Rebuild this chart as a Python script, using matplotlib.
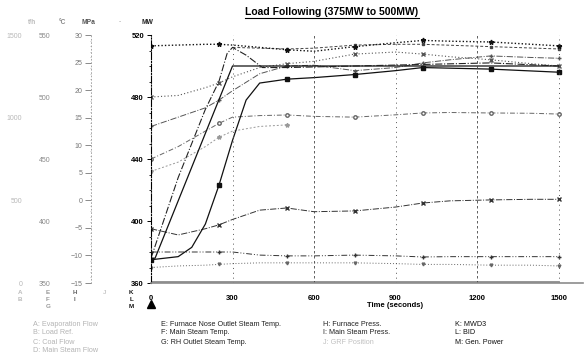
import matplotlib
matplotlib.use("Agg")
import matplotlib.pyplot as plt
from matplotlib.lines import Line2D
from matplotlib.ticker import MultipleLocator

plt.rcParams["font.family"] = ["Liberation Sans", "DejaVu Sans"]

# ---- data, read on the MW scale of the plot (time in seconds) ----
t_std = [0, 100, 200, 250, 300, 400, 500, 600, 750, 900, 1000, 1100, 1250, 1400, 1500]

evap_flow = [395, 391, 395, 397.5, 401, 407, 408.4, 406, 406.5, 409, 411.6, 413, 413.6, 414, 414]          # A
load_ref = [380, 380, 380, 380, 380, 378, 377.5, 377.5, 378, 377.5, 376.8, 377, 377, 377, 377]            # B
coal_flow = [370, 371, 371.5, 372, 372.5, 373, 373, 373, 373, 372.5, 372, 372, 371.5, 371.5, 371]         # C
nose_temp = [480, 481, 486, 489, 493, 499, 501.5, 503, 507.7, 509, 507.7, 506, 504, 501.5, 500]           # E
ms_temp = [513, 513.5, 514, 514, 513.5, 512, 510.5, 509.5, 512.5, 515, 516.5, 516, 515.5, 514, 513]       # F
rh_temp = [461, 467, 473, 478, 484, 495, 500, 500.5, 497, 499, 502, 504, 506.5, 505.5, 505]               # G
furn_press = [440, 448, 458, 463, 467, 468, 468.4, 467.5, 467, 468.5, 469.7, 470, 469.7, 469.5, 469]     # H

t_msflow = [300, 400, 500, 600, 750, 900, 1000, 1250, 1500]
ms_flow = [512, 511.5, 511, 511.5, 513.5, 514, 514, 512.5, 511]                                           # D

t_mspress = [0, 100, 200, 250, 300, 400, 500]
ms_press = [432, 438, 448, 454, 458, 461, 462]                                                            # I

t_pos = [0, 1500]
grf_pos = [360.6, 360.6]                                                                                   # J

t_mwd = [0, 15, 300, 1500]
mwd3 = [376, 376, 500, 500]                                                                                # K

t_bid = [0, 100, 200, 250, 280, 300, 350, 410, 500, 750, 1000, 1250, 1500]
bid = [376, 428, 472, 490, 508, 512, 507, 499, 499, 500, 501, 502, 500]                                    # L

t_gen = [0, 100, 150, 200, 250, 300, 350, 400, 500, 600, 750, 900, 1000, 1250, 1500]
gen_power = [375, 377, 383, 398, 423, 452, 478, 489, 491.5, 492.5, 494.5, 497, 499, 498, 496]            # M

time_ticks = [0, 300, 600, 900, 1200, 1500]
mw_ticks = [360, 400, 440, 480, 520]

legend_cols = [
    (33, "#b4b4b4", ["A: Evaporation Flow", "B: Load Ref.", "C: Coal Flow", "D: Main Steam Flow"]),
    (161, "#222222", ["E: Furnace Nose Outlet Steam Temp.", "F: Main Steam Temp.", "G: RH Outlet Steam Temp."]),
    (323, "#222222", ["H: Furnace Press.", "I: Main Steam Press."]),
    (455, "#111111", ["K: MWD3", "L: BID", "M: Gen. Power"]),
]

W, H = 587, 355


def fx(px):
    return px / W


def fy(py):
    return 1 - py / H


fig = plt.figure(figsize=(W / 100, H / 100), dpi=100)
ax = fig.add_axes([fx(151), fy(283), fx(583) - fx(151), fy(35) - fy(283)])
ax.set_xlim(0, 1590)
ax.set_ylim(360, 520)


def marks(times):
    return [i for i, t in enumerate(times) if t % 250 == 0]


series = [
    (t_std, evap_flow, dict(color="#333333", ls="-.", lw=0.7, marker="x", ms=2.5)),
    (t_std, load_ref, dict(color="#333333", ls=(0, (6, 2, 1, 2, 1, 2)), lw=0.7, marker="+", ms=3)),
    (t_std, coal_flow, dict(color="#666666", ls=(0, (1, 2)), lw=0.7, marker="v", ms=2)),
    (t_msflow, ms_flow, dict(color="#444444", ls=(0, (3, 2)), lw=0.7, marker="s", ms=2)),
    (t_std, nose_temp, dict(color="#555555", ls=(0, (1, 2)), lw=0.8, marker="x", ms=2.5)),
    (t_std, ms_temp, dict(color="#111111", ls=(0, (1, 1.5)), lw=1.0, marker="*", ms=3.5)),
    (t_std, rh_temp, dict(color="#555555", ls="-.", lw=0.7, marker="+", ms=3)),
    (t_std, furn_press, dict(color="#666666", ls=(0, (5, 2, 1, 2)), lw=0.7, marker="o", ms=2.5, mfc="white")),
    (t_mspress, ms_press, dict(color="#999999", ls=(0, (2, 2)), lw=0.7, marker="*", ms=3)),
    (t_pos, grf_pos, dict(color="#8c8c8c", ls="-", lw=1.3)),
    (t_mwd, mwd3, dict(color="#111111", ls="-", lw=0.9)),
    (t_bid, bid, dict(color="#222222", ls="-.", lw=0.8)),
    (t_gen, gen_power, dict(color="#111111", ls="-", lw=0.9, marker="s", ms=2.5)),
]
for tt, vv, style in series:
    if "marker" in style:
        style["markevery"] = marks(tt)
    ax.plot(tt, vv, **style)

# vertical reference lines
for t in time_ticks[1:]:
    if t % 600 == 0:
        ax.axvline(t, color="#444444", ls=(0, (3, 3)), lw=0.6)
    else:
        ax.axvline(t, color="#555555", ls=(0, (1, 4)), lw=0.7)

for side in ("top", "right"):
    ax.spines[side].set_visible(False)
ax.spines["left"].set_linestyle("-.")
ax.spines["left"].set_linewidth(0.8)
ax.spines["bottom"].set_color("#8c8c8c")
ax.spines["bottom"].set_linewidth(1.2)

ax.set_yticks(mw_ticks)
ax.yaxis.set_minor_locator(MultipleLocator(10))
ax.tick_params(axis="y", which="major", length=3, width=0.7, pad=2, labelsize=5.5)
ax.tick_params(axis="y", which="minor", length=1.5, width=0.6)
for lab in ax.get_yticklabels():
    lab.set_fontweight("bold")
ax.set_xticks(time_ticks)
ax.tick_params(axis="x", length=0, pad=9, labelsize=5.5)
for lab in ax.get_xticklabels():
    lab.set_fontweight("bold")
ax.set_xlabel("Time (seconds)", fontsize=5.5, fontweight="bold", labelpad=1)
ax.xaxis.set_label_coords((900 + 0) / 1590, -0.075)

ax.plot([0], [-0.085], marker="^", ms=6, color="black", transform=ax.get_xaxis_transform(), clip_on=False)


def side_axis(offset_px, lo, hi, step, color, show_spine=False):
    a = ax.twinx()
    a.set_ylim(lo, hi)
    a.yaxis.tick_left()
    a.spines["right"].set_visible(False)
    a.spines["top"].set_visible(False)
    a.spines["bottom"].set_visible(False)
    a.spines["left"].set_position(("outward", offset_px * 72 / 100))
    a.spines["left"].set_visible(show_spine)
    a.yaxis.set_major_locator(MultipleLocator(step))
    a.tick_params(axis="y", labelsize=5, labelcolor=color, length=0, pad=2)
    return a


ax_flow = side_axis(126, 0, 1500, 500, "#b8b8b8")
ax_temp = side_axis(98, 350, 550, 50, "#8a8a8a")
ax_press = side_axis(60, -15, 30, 5, "#777777", show_spine=True)
ax_press.spines["left"].set_linestyle((0, (1, 3)))
ax_press.spines["left"].set_color("#999999")
ax_press.spines["left"].set_linewidth(0.6)
ax_press.yaxis.set_minor_locator(MultipleLocator(1))
ax_press.tick_params(axis="y", which="major", length=4, width=0.6, color="#777777", pad=2)
ax_press.tick_params(axis="y", which="minor", length=1, width=0.5, color="#aaaaaa")

# axis headers and curve letters
headers = [(32, "t/h", "#bbbbbb"), (62, "°C", "#888888"), (88, "MPa", "#555555"),
           (120, "-", "#bbbbbb"), (147, "MW", "#222222")]
for x, s, c in headers:
    fig.text(fx(x), fy(22), s, fontsize=4.8, color=c, ha="center", va="center", fontweight="bold")

letters = [(20, ["A", "B"], "#bbbbbb"), (48, ["E", "F", "G"], "#999999"), (75, ["H", "I"], "#666666"),
           (105, ["J"], "#c8c8c8"), (131, ["K", "L", "M"], "#111111")]
for x, col, c in letters:
    for i, s in enumerate(col):
        fig.text(fx(x), fy(293 + 6.5 * i), s, fontsize=4.5, color=c, ha="center", va="center", fontweight="bold")

for x, c, rows in legend_cols:
    for i, s in enumerate(rows):
        fig.text(fx(x), fy(324 + 9 * i), s, fontsize=5.2, color=c, ha="left", va="center")
fig.text(fx(323), fy(342), "J: GRF Position", fontsize=5.2, color="#c0c0c0", ha="left", va="center")

title = fig.text(fx(332), fy(12), "Load Following (375MW to 500MW)", fontsize=7.5,
                 fontweight="bold", ha="center", va="center")
fig.canvas.draw()
bb = title.get_window_extent(fig.canvas.get_renderer()).transformed(fig.transFigure.inverted())
fig.add_artist(Line2D([bb.x0, bb.x1], [bb.y0 - 0.004, bb.y0 - 0.004], color="black", lw=0.8,
                      transform=fig.transFigure))

fig.savefig("out.png", dpi=100)
